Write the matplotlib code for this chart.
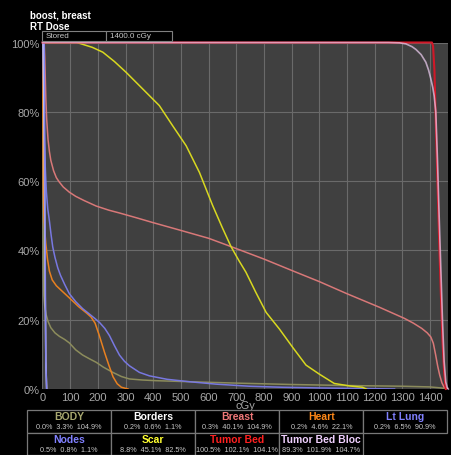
import matplotlib
matplotlib.use("Agg")
import matplotlib.pyplot as plt
from matplotlib.patches import Rectangle

# ---------------- data ----------------
body_dose = [0, 1, 2, 3, 5, 8, 13, 20, 30, 45, 61, 80, 97, 120, 145, 170, 194, 220, 254, 285, 314, 360,
             410, 531, 700, 900, 1100, 1300, 1400, 1440, 1469]
body_vol = [100, 100, 55, 35, 27, 24, 21.5, 19.5, 17.7, 16.2, 15.2, 14.3, 13.3, 11.3, 9.8, 8.7, 7.7, 6.3,
            4.8, 3.6, 2.9, 2.6, 2.4, 2.1, 1.7, 1.3, 1.0, 0.8, 0.6, 0.3, 0]

borders_dose = [0, 3, 6, 9, 12, 15]
borders_vol = [100, 100, 75, 35, 8, 0]

breast_dose = [0, 6, 8, 10, 12, 15, 20, 25, 30, 40, 50, 60, 75, 97, 120, 150, 194, 240, 278, 340, 400,
               494, 600, 681, 800, 904, 1000, 1100, 1217, 1307, 1340, 1370, 1390, 1403, 1412, 1420,
               1428, 1435, 1443, 1451, 1469]
breast_vol = [100, 100, 96, 90, 84, 78, 72, 68.5, 66, 63, 61, 59.8, 58.3, 56.8, 55.6, 54.4, 52.8, 51.6,
              50.8, 49.4, 48, 45.9, 43.5, 41.1, 37.5, 34.1, 31, 27.5, 23.6, 20.4, 19, 17.5, 16.2, 15,
              13.2, 10, 6.5, 4, 1.8, 0.5, 0]

heart_dose = [0, 1, 2, 3, 5, 8, 12, 18, 25, 35, 50, 70, 97, 130, 158, 175, 190, 205, 224, 240, 255,
              270, 285, 309]
heart_vol = [100, 100, 75, 58, 50, 46, 42, 37.5, 34, 31.5, 29.8, 28.3, 26.3, 23.8, 22, 20.8, 19, 15.5,
             10.6, 6.8, 3.5, 1.5, 0.5, 0]

ltlung_dose = [0, 1, 3, 5, 7, 10, 14, 19, 25, 31, 37, 45, 55, 65, 80, 97, 120, 145, 170, 190, 206, 225,
               242, 260, 278, 296, 314, 350, 386, 450, 531, 627, 747, 867, 1000, 1150, 1272]
ltlung_vol = [100, 100, 92, 82, 73, 64, 57, 52, 48.5, 44.5, 41, 38, 35, 32.8, 30.2, 27.5, 25.2, 23.2,
              21.6, 20.3, 19.2, 17.5, 15.4, 12.5, 9.8, 8, 6.7, 4.8, 3.8, 2.8, 2.1, 1.4, 0.8, 0.5, 0.3,
              0.15, 0]

nodes_dose = [0, 6, 8, 10, 12, 15]
nodes_vol = [100, 100, 70, 35, 8, 0]

scar_dose = [0, 124, 140, 180, 218, 260, 302, 362, 422, 470, 519, 567, 615, 650, 681, 710, 735, 770, 808,
             856, 904, 952, 1000, 1030, 1054, 1108, 1156, 1170]
scar_vol = [100, 100, 99.6, 98.6, 97.2, 94.5, 91.4, 86.6, 81.8, 76, 70.2, 62.5, 52.9, 46.5, 41.1, 37,
            33.7, 28, 22.1, 17.3, 12, 6.9, 4.3, 2.8, 1.6, 0.9, 0.5, 0]

tbed_dose = [0, 1407, 1411, 1416, 1421, 1427, 1433, 1439, 1445, 1451, 1457]
tbed_vol = [100, 100, 99, 92, 77, 60, 43, 28, 14, 5, 0]

tbb_dose = [0, 1250, 1290, 1313, 1335, 1349, 1368, 1385, 1395, 1403, 1410, 1415, 1421, 1427, 1433,
            1439, 1445, 1451, 1457, 1462, 1466]
tbb_vol = [100, 100, 99.9, 99.6, 98.8, 98, 96.5, 94.3, 92, 89.5, 87, 84.6, 79.9, 66, 50, 35, 20, 8,
           2, 0.5, 0]

legend_names = ["BODY", "Borders", "Breast", "Heart", "Lt Lung",
                "Nodes", "Scar", "Tumor Bed", "Tumor Bed Bloc"]
legend_stats = ["0.0%  3.3%  104.9%", "0.2%  0.6%  1.1%", "0.3%  40.1%  104.9%", "0.2%  4.6%  22.1%",
                "0.2%  6.5%  90.9%", "0.5%  0.8%  1.1%", "8.8%  45.1%  82.5%", "100.5%  102.1%  104.1%",
                "89.3%  101.9%  104.7%"]
legend_colors = ["#a8a870", "#ffffff", "#f07878", "#ff8818", "#8080ff",
                 "#8080ff", "#ffff30", "#ff2020", "#f0d0ff"]

x_ticks = list(range(0, 1401, 100))
y_ticks = [0, 20, 40, 60, 80, 100]

# ---------------- figure ----------------
W, H = 452, 456
fig = plt.figure(figsize=(W / 100, H / 100), dpi=100, facecolor="black")
plt.rcParams['font.family'] = ['Liberation Sans', 'DejaVu Sans']

def fx(px):
    return px / W

def fy(py):
    return 1 - py / H

ax = fig.add_axes([fx(42.5), fy(390), fx(448 - 42.5), (390 - 43.5) / H])
ax.set_facecolor("#404040")
ax.set_xlim(0, 1465)
ax.set_ylim(0, 100)
for s in ax.spines.values():
    s.set_visible(False)
ax.set_xticks(x_ticks)
ax.set_yticks(y_ticks)
ax.set_yticklabels([f"{v}%" for v in y_ticks])
ax.tick_params(colors="#a8a8a8", labelsize=8, length=0, pad=2)
ax.grid(True, color="#6a6a6a", linewidth=0.8)
ax.set_axisbelow(True)
ax.set_xlabel("cGy", color="#a8a8a8", fontsize=8, labelpad=-1)

lw = 1.1
ax.plot(body_dose, body_vol, color="#8c8c5c", lw=lw)
ax.plot(breast_dose, breast_vol, color="#d87878", lw=lw)
ax.plot(heart_dose, heart_vol, color="#e88020", lw=lw)
ax.plot(ltlung_dose, ltlung_vol, color="#7878e0", lw=lw)
ax.plot(scar_dose, scar_vol, color="#d8d820", lw=lw)
ax.plot(borders_dose, borders_vol, color="#e8e8e8", lw=lw)
ax.plot(nodes_dose, nodes_vol, color="#8484f4", lw=lw)
ax.plot(tbed_dose, tbed_vol, color="#d01828", lw=1.5, clip_on=False)
ax.plot(tbb_dose, tbb_vol, color="#f0d0f4", lw=1.2, alpha=0.7, clip_on=False)

# ---------------- header ----------------
fig.text(fx(30), fy(15), "boost, breast", color="white", fontsize=7, fontweight="bold", va="center")
fig.text(fx(30), fy(26.5), "RT Dose", color="white", fontsize=7, fontweight="bold", va="center")
for (x0, x1, label) in [(42, 105.5, "Stored"), (106.5, 172, "1400.0 cGy")]:
    fig.add_artist(Rectangle((fx(x0), fy(41.5)), fx(x1 - x0), (41.5 - 32) / H,
                             transform=fig.transFigure, facecolor="black",
                             edgecolor="#808080", linewidth=0.8))
    fig.text(fx(x0 + 4), fy(36.8), label, color="#c8c8c8", fontsize=5.8, va="center")

# ---------------- legend table ----------------
col_edges = [27.3, 111, 195, 279.3, 363.3, 446.7]
row_edges = [(411, 434), (434, 456)]
for i, (name, stats, col) in enumerate(zip(legend_names, legend_stats, legend_colors)):
    r, c = divmod(i, 5)
    x0, x1 = col_edges[c], col_edges[c + 1]
    y0, y1 = row_edges[r]
    fig.add_artist(Rectangle((fx(x0), fy(y1)), fx(x1 - x0), (y1 - y0) / H,
                             transform=fig.transFigure, facecolor="black",
                             edgecolor="#787878", linewidth=0.9))
    xc = (x0 + x1) / 2
    fig.text(fx(xc), fy(y0 + 6.5), name, color=col, fontsize=7.5, fontweight="bold",
             ha="center", va="center")
    fig.text(fx(xc), fy(y0 + 17), stats, color="#c8c8c8", fontsize=5.2,
             ha="center", va="center")

fig.savefig("out.png", dpi=100, facecolor="black")
